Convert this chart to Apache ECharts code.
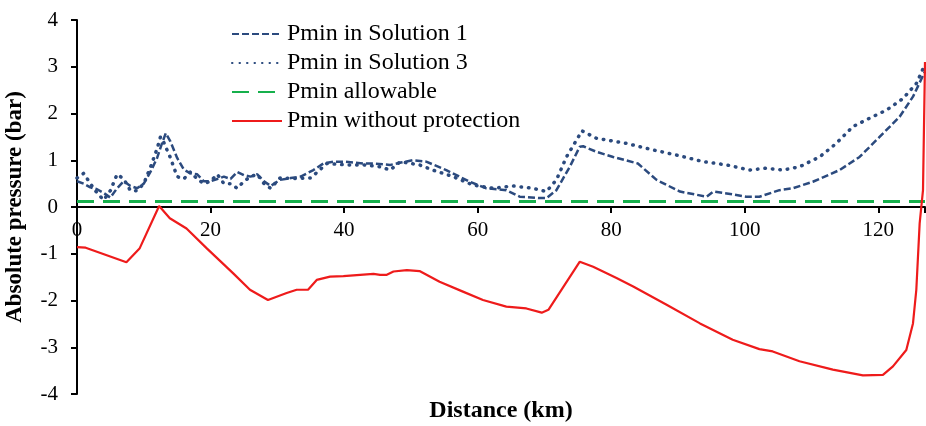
<!DOCTYPE html>
<html>
<head>
<meta charset="utf-8">
<script src="https://cdn.jsdelivr.net/npm/echarts@6/dist/echarts.min.js"></script>
<style>html,body{margin:0;padding:0;background:#fff}#c{width:926px;height:426px}</style>
</head>
<body>
<div id="c"></div>
<script>
const seriesNames = ['Pmin in Solution 1', 'Pmin in Solution 3', 'Pmin allowable', 'Pmin without protection'];
const xTickValues = [0, 20, 40, 60, 80, 100, 120];
const yTickValues = [-4, -3, -2, -1, 0, 1, 2, 3, 4];

const s1X = [0,1,2,3,4,5,6,7,8,9,10,11,12,12.7,13.3,14,15,16,17,18,19,20,21,22,23,24,25,26,27,28,29,30.4,32,33.5,35.4,36.9,38.4,40,42.9,44.5,46.9,48.5,50.3,52.3,55.3,58.8,61.3,64.3,66.3,69.3,70.3,71.8,73.8,75.3,75.8,77.8,80.3,84,86.8,90.3,94.3,95.3,97.3,100.2,102.2,105.2,107.2,110.2,114.2,117.2,120.2,123.2,125.2,127];
const s1Y = [0.55,0.5,0.42,0.38,0.3,0.2,0.4,0.55,0.45,0.4,0.5,0.75,1.05,1.35,1.58,1.4,1.05,0.8,0.72,0.7,0.55,0.55,0.6,0.65,0.6,0.75,0.68,0.65,0.7,0.55,0.45,0.58,0.62,0.65,0.79,0.93,0.97,0.97,0.93,0.93,0.9,0.95,1.0,0.97,0.79,0.54,0.4,0.36,0.22,0.19,0.19,0.36,0.86,1.29,1.3,1.18,1.07,0.93,0.58,0.33,0.22,0.33,0.29,0.22,0.22,0.36,0.4,0.54,0.79,1.07,1.5,1.93,2.36,2.9];

const s3X = [0,1,2,3,4,5,6,7,8,9,10,11,12,12.5,13,14,15,16,17,18,19,20,21,22,23,24,25,26,27,28,29,30.4,32.9,35,37.4,40.4,43,45.4,46.9,48.4,51.3,53.3,56.3,59.3,62.3,65.3,68.3,70.3,71.8,73.3,75.3,75.6,77.8,82.3,86.3,89.8,93.8,97.3,100.7,103.2,105.7,108.2,111.2,113.7,116.2,118.7,121.2,123.7,125.7,127];
const s3Y = [0.62,0.72,0.5,0.3,0.15,0.35,0.7,0.6,0.35,0.35,0.5,0.85,1.25,1.5,1.38,1.05,0.65,0.6,0.75,0.6,0.5,0.55,0.7,0.5,0.5,0.4,0.55,0.65,0.7,0.5,0.4,0.62,0.61,0.62,0.93,0.9,0.9,0.86,0.79,0.97,0.9,0.79,0.65,0.47,0.4,0.45,0.4,0.33,0.58,1.07,1.55,1.63,1.47,1.36,1.22,1.11,0.97,0.9,0.79,0.83,0.79,0.86,1.07,1.36,1.72,1.9,2.07,2.32,2.64,3.05];

const allowX = [0, 127];
const allowY = [0.12, 0.12];

const redX = [0,1.3,7.4,9.4,12.3,13.9,16.4,19.4,23.4,25.9,28.6,31.4,32.9,34.6,35.9,37.9,39.9,44.4,45.4,46.4,47.4,49.4,51.3,54.3,57.8,60.8,64.3,67.3,69.6,70.6,75.3,77.3,80.8,83.3,88.3,93.3,98.2,102.2,104.2,108.2,113.2,117.7,120.7,122.2,124.2,125.2,125.7,126.2,126.7,127];
const redY = [-0.86,-0.87,-1.18,-0.88,0.02,-0.24,-0.46,-0.88,-1.42,-1.77,-1.99,-1.84,-1.77,-1.77,-1.56,-1.49,-1.48,-1.43,-1.45,-1.45,-1.38,-1.35,-1.37,-1.6,-1.81,-1.99,-2.13,-2.17,-2.26,-2.2,-1.17,-1.28,-1.52,-1.7,-2.09,-2.49,-2.84,-3.04,-3.09,-3.3,-3.48,-3.6,-3.59,-3.41,-3.06,-2.49,-1.77,-0.35,0.36,3.1];

function pairs(xs, ys) { return xs.map((x, i) => [x, ys[i]]); }

const FONT = '"Liberation Serif", "Times New Roman", serif';
const Y_MIN = -4, Y_MAX = 4;
const GRID_TOP = 20, GRID_BOTTOM = 32, H = 426;
const plotH = H - GRID_TOP - GRID_BOTTOM;
// distance from grid bottom up to the y = 0 line (for placing the x tick labels next to it)
const zeroOffset = plotH * (0 - Y_MIN) / (Y_MAX - Y_MIN);

const chart = echarts.init(document.getElementById('c'), null, {renderer: 'canvas'});
chart.setOption({
  backgroundColor: '#ffffff',
  animation: false,
  grid: {left: 77, right: 1, top: GRID_TOP, bottom: GRID_BOTTOM, containLabel: false, outerBoundsMode: 'none'},
  legend: {
    left: 226, top: 17, orient: 'vertical',
    itemWidth: 50, itemHeight: 14, itemGap: 5,
    itemStyle: {opacity: 0},
    textStyle: {fontFamily: FONT, fontSize: 24, color: '#000', padding: [0, 0, 0, 0]},
    data: seriesNames
  },
  xAxis: [{
    type: 'value', min: 0, max: 127, interval: 20,
    axisLine: {onZero: true, lineStyle: {color: '#000', width: 2}},
    axisTick: {show: true, length: 6, lineStyle: {color: '#000', width: 2}},
    axisLabel: {show: false},
    splitLine: {show: false},
    name: 'Distance (km)', nameLocation: 'middle', nameGap: 5,
    nameTextStyle: {fontFamily: FONT, fontSize: 24, fontWeight: 'bold', color: '#000', verticalAlign: 'top'}
  }, {
    type: 'value', min: 0, max: 127, interval: 20, position: 'bottom',
    offset: -zeroOffset,
    axisLine: {show: false, onZero: false},
    axisTick: {show: false},
    axisLabel: {fontFamily: FONT, fontSize: 21, color: '#000', margin: 13,
      formatter: v => xTickValues.includes(v) ? String(v) : ''},
    splitLine: {show: false}
  }],
  yAxis: {
    type: 'value', min: Y_MIN, max: Y_MAX, interval: 1,
    axisLine: {show: true, lineStyle: {color: '#000', width: 2}},
    axisTick: {show: true, length: 6, lineStyle: {color: '#000', width: 2}},
    axisLabel: {fontFamily: FONT, fontSize: 21, color: '#000', margin: 19,
      formatter: v => yTickValues.includes(v) ? String(v) : ''},
    splitLine: {show: false},
    name: 'Absolute pressure (bar)', nameLocation: 'middle', nameGap: 50,
    nameTextStyle: {fontFamily: FONT, fontSize: 23, fontWeight: 'bold', color: '#000'}
  },
  series: [
    {name: seriesNames[0], type: 'line', data: pairs(s1X, s1Y), symbol: 'none', z: 3,
      itemStyle: {color: '#2b4a7e'},
      lineStyle: {color: '#2b4a7e', width: 2.5, type: [7, 3]}},
    {name: seriesNames[1], type: 'line', data: pairs(s3X, s3Y), symbol: 'none', z: 3,
      itemStyle: {color: '#2b4a7e'},
      lineStyle: {color: '#2b4a7e', width: 3.5, type: [0.5, 7], cap: 'round'}},
    {name: seriesNames[2], type: 'line', data: pairs(allowX, allowY), symbol: 'none', z: 2,
      itemStyle: {color: '#16b04c'},
      lineStyle: {color: '#16b04c', width: 3, type: [17, 9]}},
    {name: seriesNames[3], type: 'line', data: pairs(redX, redY), symbol: 'none', z: 4,
      itemStyle: {color: '#ee1b1b'},
      lineStyle: {color: '#ee1b1b', width: 2.2}}
  ]
});
</script>
</body>
</html>
